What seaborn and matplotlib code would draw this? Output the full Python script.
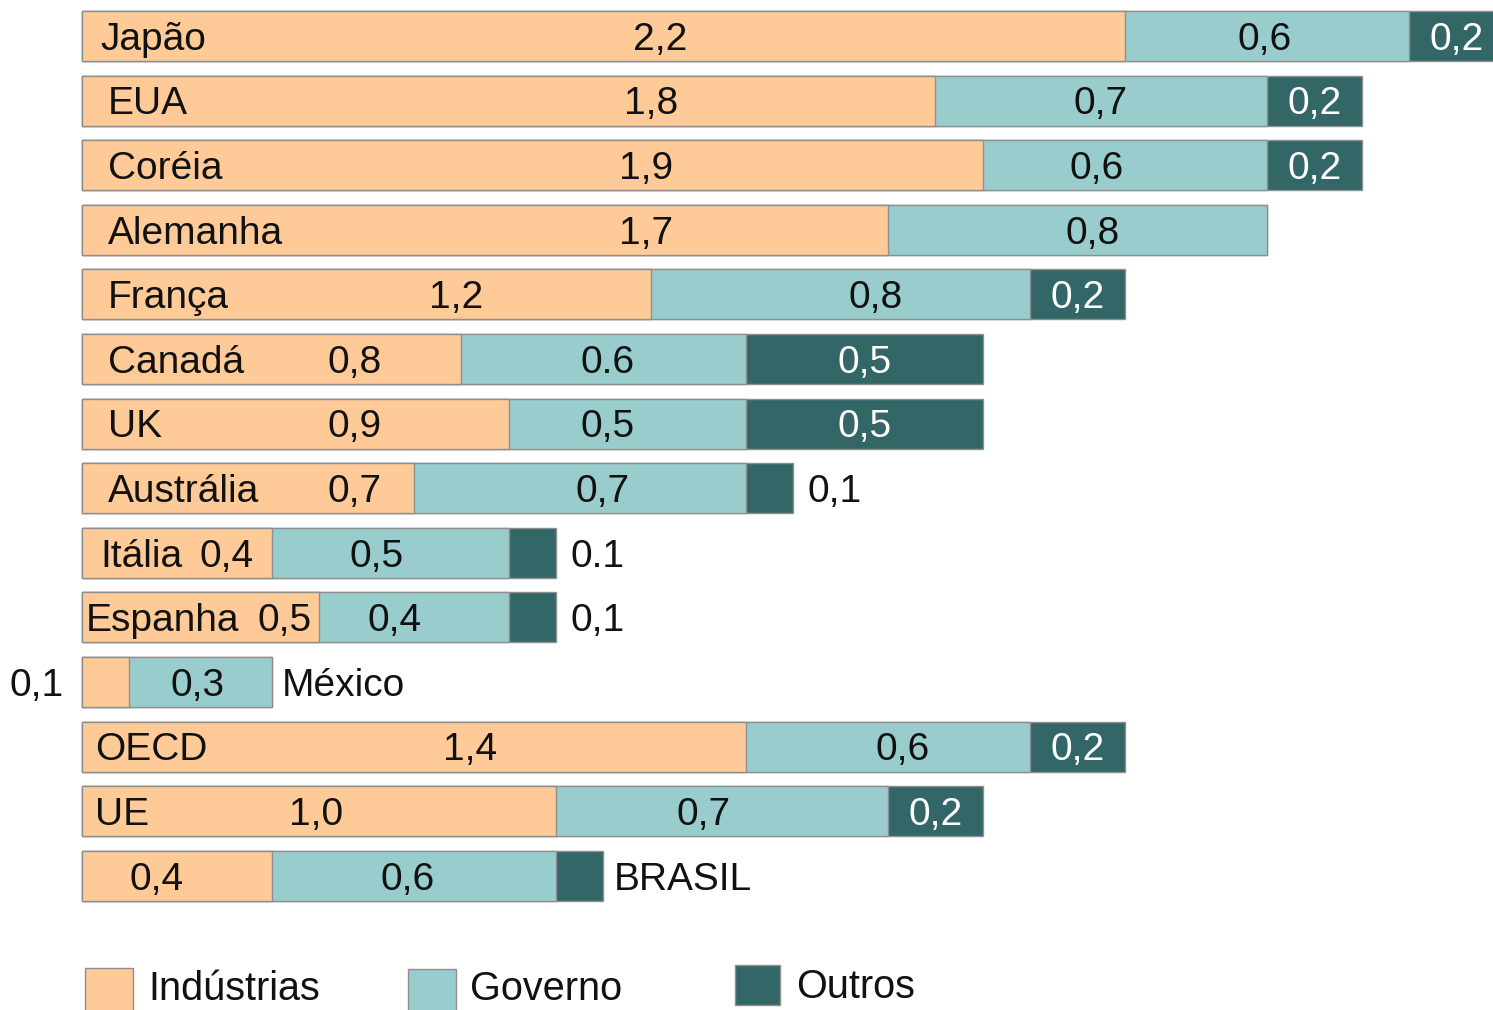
import matplotlib
matplotlib.use("Agg")
import matplotlib.pyplot as plt
from matplotlib.patches import Rectangle
import pandas as pd
import seaborn as sns

# Gasto em P&D (% do PIB) por fonte de financiamento
paises = ["Japão", "EUA", "Coréia", "Alemanha", "França", "Canadá", "UK",
          "Austrália", "Itália", "Espanha", "México", "OECD", "UE", "BRASIL"]
industrias = [2.2, 1.8, 1.9, 1.7, 1.2, 0.8, 0.9, 0.7, 0.4, 0.5, 0.1, 1.4, 1.0, 0.4]
governo = [0.6, 0.7, 0.6, 0.8, 0.8, 0.6, 0.5, 0.7, 0.5, 0.4, 0.3, 0.6, 0.7, 0.6]
outros = [0.2, 0.2, 0.2, 0.0, 0.2, 0.5, 0.5, 0.1, 0.1, 0.1, 0.0, 0.2, 0.2, 0.1]

rot_industrias = ["2,2", "1,8", "1,9", "1,7", "1,2", "0,8", "0,9", "0,7", "0,4",
                  "0,5", "0,1", "1,4", "1,0", "0,4"]
rot_governo = ["0,6", "0,7", "0,6", "0,8", "0,8", "0.6", "0,5", "0,7", "0,5",
               "0,4", "0,3", "0,6", "0,7", "0,6"]
rot_outros = ["0,2", "0,2", "0,2", "", "0,2", "0,5", "0,5", "0,1", "0.1",
              "0,1", "", "0,2", "0,2", ""]

categorias = ["Indústrias", "Governo", "Outros"]

# Layout of the text annotations (x in data units)
nome_x = [0.038, 0.055, 0.055, 0.055, 0.055, 0.055, 0.055, 0.055, 0.038, 0.008,
          None, 0.027, 0.027, None]
ind_x = [1.22, 1.20, 1.19, 1.19, 0.79, 0.576, 0.576, 0.576, 0.306, 0.428,
         -0.095, 0.819, 0.494, 0.158]
gov_x = [2.496, 2.148, 2.141, 2.133, 1.675, 1.108, 1.108, 1.099, 0.622, 0.660,
         0.243, 1.732, 1.312, 0.688]

COR_IND = "#FECA98"
COR_GOV = "#99CCCC"
COR_OUT = "#336666"
BORDA = "#8f8f8f"

sns.set_theme(style="white")
plt.rcParams["font.family"] = ["Liberation Sans", "DejaVu Sans"]

W, H = 1493, 1010
fig = plt.figure(figsize=(W / 100, H / 100), dpi=100)
ax = fig.add_axes([0, 0, 1, 1])

df = pd.DataFrame({"país": paises, "ind": industrias, "gov": governo, "out": outros})
df["c_gov"] = df["ind"] + df["gov"]
df["c_out"] = df["c_gov"] + df["out"]

# Stacked bars drawn back-to-front as cumulative totals
for col, cor in [("c_out", COR_OUT), ("c_gov", COR_GOV), ("ind", COR_IND)]:
    sns.barplot(data=df, x=col, y="país", order=paises, orient="h", color=cor,
                saturation=1, width=0.775, edgecolor=BORDA, linewidth=1.0, ax=ax)

FS = 28
DY = 0.215  # baseline offset below bar centre
for i, p in enumerate(paises):
    ind, gov, out = industrias[i], governo[i], outros[i]
    total = ind + gov + out
    y = i + DY
    # country name
    if nome_x[i] is None:
        ax.text(total + 0.022, y, p, ha="left", va="baseline",
                fontsize=FS, color="#111111")
    else:
        ax.text(nome_x[i], y, p, ha="left", va="baseline", fontsize=FS,
                color="#111111")
    # industry value
    ax.text(ind_x[i], y, rot_industrias[i], ha="center", va="baseline",
            fontsize=FS, color="#111111")
    # government value
    ax.text(gov_x[i], y, rot_governo[i], ha="center", va="baseline",
            fontsize=FS, color="#111111")
    # other sources
    if rot_outros[i]:
        if out >= 0.2:
            ax.text(ind + gov + out / 2, y, rot_outros[i], ha="center",
                    va="baseline", fontsize=FS, color="white")
        else:
            ax.text(total + 0.03, y, rot_outros[i], ha="left", va="baseline",
                    fontsize=FS, color="#111111")

ax.set_xlim(-82 / 474, (W - 82) / 474)
ax.set_ylim((H - 36) / 64.6, -36 / 64.6)
ax.set_axis_off()

# Legend along the bottom edge
legenda = [(categorias[0], COR_IND, 85, 968, 48, 44, 148, 1000),
           (categorias[1], COR_GOV, 408, 969, 48, 44, 470, 1000),
           (categorias[2], COR_OUT, 735, 965, 45, 40, 796, 998)]
for nome, cor, px, py, pw, ph, tx, ty in legenda:
    fig.add_artist(Rectangle((px / W, 1 - (py + ph) / H), pw / W, ph / H,
                             transform=fig.transFigure, facecolor=cor,
                             edgecolor=BORDA, linewidth=1.0))
    fig.text(tx / W, 1 - ty / H, nome, ha="left", va="baseline", fontsize=28.5,
             color="#111111")

fig.savefig("out.png", dpi=100)
